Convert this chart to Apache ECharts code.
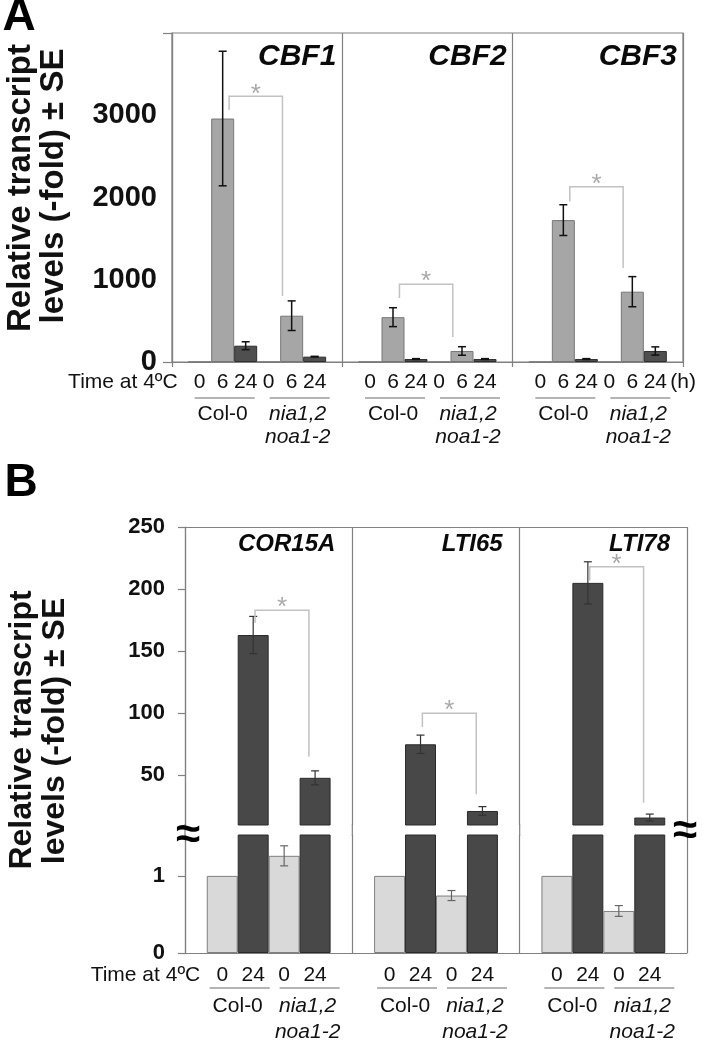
<!DOCTYPE html>
<html><head><meta charset="utf-8">
<script src="https://cdn.jsdelivr.net/npm/echarts@6/dist/echarts.min.js"></script>
<style>html,body{margin:0;padding:0;background:#fff}#c{width:703px;height:1041px}</style>
</head><body><div id="c"></div>
<script>
// ---------------- data ----------------
const genesA = ['CBF1', 'CBF2', 'CBF3'];
const genesB = ['COR15A', 'LTI65', 'LTI78'];
const timesA = ['0', '6', '24'];
const timesB = ['0', '24'];
const genotypeCol = 'Col-0';
const genotypeMut = ['nia1,2', 'noa1-2'];
const timeLabel = 'Time at 4ºC';
const unitLabel = '(h)';
const yTitle = ['Relative transcript', 'levels (-fold) ± SE'];

// Panel A: CBF transcripts (fold)
const colA0 = [1, 1, 1];
const colA6 = [2960, 545, 1725];
const colA24 = [198, 36, 36];
const mutA0 = [1, 1, 1];
const mutA6 = [563, 134, 855];
const mutA24 = [65, 36, 134];
const seColA6 = [818, 115, 187];
const seColA24 = [48, 5, 5];
const seMutA6 = [180, 52, 183];
const seMutA24 = [4, 5, 50];
const yTicksA = [0, 1000, 2000, 3000];

// Panel B: COR / LTI transcripts (fold)
const colB0 = [1, 1, 1];
const colB24 = [163, 75, 205];
const mutB0 = [1.26, 0.745, 0.545];
const mutB24 = [48, 21.3, 16];
const seColB24 = [15, 7.4, 17];
const seMutB0 = [0.13, 0.065, 0.07];
const seMutB24 = [5.6, 3.5, 2.8];
const yTicksBUpper = [50, 100, 150, 200, 250];
const yTicksBLower = [0, 1];

// significance brackets (value levels): bracket top, left leg end, right leg end
const sigTopA = [3230, 945, 2130];
const sigLeftA = [3066, 779, 1950];
const sigRightA = [803, 304, 1143];
const sigTopB = [183, 100, 218];
const sigLeftB = [172.6, 89, 207];
const sigRightB = [65, 34.7, 28];

// ---------------- style / layout ----------------
const FONT = 'Liberation Sans, Arial, Helvetica, sans-serif';
const AXIS_COLOR = '#808080';
const GAP_A = 0.19, GAP_B = 0.26;
const BREAK_GAP = 10;
const grids = [
  { left: 172, top: 33, width: 511, height: 329, show: true, borderColor: AXIS_COLOR, borderWidth: 1.2 },
  { left: 185, top: 527, width: 502, height: 298 },
  { left: 185, top: 835, width: 502, height: 118 }
];

function bars(data, xi, color, border, gap) {
  return {
    type: 'bar', xAxisIndex: xi, yAxisIndex: xi, data: data, barGap: '0%',
    barCategoryGap: (gap * 100) + '%', clip: true, silent: true,
    itemStyle: { color: color, borderColor: border, borderWidth: 1 }
  };
}
function txt(s, x, y, align, size, weight, style, color) {
  return { type: 'text', x: x, y: y, style: {
    text: s, align: align, verticalAlign: 'middle', fontSize: size, fontWeight: weight || 'normal',
    fontStyle: style || 'normal', fontFamily: FONT, fill: color || '#111' } };
}
function ln(x1, y1, x2, y2, color, w) {
  return { type: 'line', shape: { x1: x1, y1: y1, x2: x2, y2: y2 }, style: { stroke: color, lineWidth: w } };
}
function geom(api, n, gap, i, v) {
  const band = api.size([1, 0])[0];
  const bw = band * (1 - gap) / n;
  const cx = api.coord([i, v])[0];
  return { band: band, bw: bw, cx: cx, barX: function (k) { return cx + (k - (n - 1) / 2) * bw; } };
}
function errRender(n, gap, color, w, cap) {
  return function (params, api) {
    const i = api.value(0), v = api.value(1), se = api.value(2), k = api.value(3);
    const g = geom(api, n, gap, i, v);
    const x = g.barX(k);
    const yt = api.coord([i, v + se])[1], yb = api.coord([i, v - se])[1];
    return { type: 'group', children: [
      ln(x, yt, x, yb, color, w), ln(x - cap / 2, yt, x + cap / 2, yt, color, w), ln(x - cap / 2, yb, x + cap / 2, yb, color, w)
    ] };
  };
}
function sigRender(n, gap, kL, kR, offL, offR, starSize) {
  return function (params, api) {
    const i = api.value(0), top = api.value(1), lb = api.value(2), rb = api.value(3);
    const g = geom(api, n, gap, i, top);
    const xl = g.barX(kL + offL), xr = g.barX(kR + offR);
    const yt = api.coord([i, top])[1], yl = api.coord([i, lb])[1], yr = api.coord([i, rb])[1];
    return { type: 'group', children: [
      { type: 'polyline', shape: { points: [[xl, yl], [xl, yt], [xr, yt], [xr, yr]] },
        style: { stroke: '#c2c2c2', lineWidth: 1.5, fill: null } },
      txt('*', (xl + xr) / 2, yt - 2, 'center', starSize, 'normal', 'normal', '#a9a9a9')
    ] };
  };
}
function titleRender(names, padR, dy, size) {
  return function (params, api) {
    const i = api.value(0);
    const cs = params.coordSys;
    const band = api.size([1, 0])[0];
    const cx = api.coord([i, api.value(1)])[0];
    return txt(names[i], cx + band / 2 - padR, cs.y + dy, 'right', size, 'bold', 'italic', '#0a0a0a');
  };
}
function labelRender(cfg) {
  return function (params, api) {
    const i = api.value(0);
    const cs = params.coordSys;
    const nt = cfg.times.length, n = nt * 2;
    const g = geom(api, n, cfg.gap, i, api.value(1));
    const bottom = cs.y + cs.height;
    const ch = [];
    for (let q = 0; q < 2; q++) {
      cfg.times.forEach(function (t, j) { ch.push(txt(t, g.barX(q * nt + j), bottom + cfg.dyTime, 'center', cfg.size)); });
      const gc = g.barX(q * nt + (nt - 1) / 2) + (q === 0 ? cfg.offCol : cfg.offMut);
      ch.push(ln(gc - cfg.ulHalf + 2, bottom + cfg.dyLine, gc + cfg.ulHalf + 2, bottom + cfg.dyLine, '#6a6a6a', 1.2));
      if (q === 0) {
        ch.push(txt(genotypeCol, gc, bottom + cfg.dyName, 'center', cfg.size));
      } else {
        ch.push(txt(genotypeMut[0], gc, bottom + cfg.dyName, 'center', cfg.size, 'normal', 'italic'));
        ch.push(txt(genotypeMut[1], gc, bottom + cfg.dyName + cfg.lineGap, 'center', cfg.size, 'normal', 'italic'));
      }
    }
    if (i === 0) ch.push(txt(timeLabel, g.barX(0) - 22, bottom + cfg.dyTime, 'right', cfg.size));
    if (cfg.unit && i === cfg.count - 1) ch.push(txt(unitLabel, g.barX(n - 1) + 15, bottom + cfg.dyTime, 'left', cfg.size));
    if (cfg.breakLines) {
      const xl = g.cx - g.band / 2, xr = g.cx + g.band / 2;
      ch.push(ln(xl, cs.y - BREAK_GAP - 1, xl, cs.y + 1, AXIS_COLOR, 1.2));
      if (i === cfg.count - 1) ch.push(ln(xr, cs.y - BREAK_GAP - 1, xr, cs.y + 1, AXIS_COLOR, 1.2));
    }
    return { type: 'group', children: ch };
  };
}

// ---------------- series data builders ----------------
const errA = [];
genesA.forEach(function (g, i) {
  errA.push([i, colA6[i], seColA6[i], 1], [i, colA24[i], seColA24[i], 2],
            [i, mutA6[i], seMutA6[i], 4], [i, mutA24[i], seMutA24[i], 5]);
});
const errBU = [], errBL = [];
genesB.forEach(function (g, i) {
  errBU.push([i, colB24[i], seColB24[i], 1], [i, mutB24[i], seMutB24[i], 3]);
  errBL.push([i, mutB0[i], seMutB0[i], 2]);
});
const sigA = genesA.map(function (g, i) { return [i, sigTopA[i], sigLeftA[i], sigRightA[i]]; });
const sigB = genesB.map(function (g, i) { return [i, sigTopB[i], sigLeftB[i], sigRightB[i]]; });
const empty = genesB.map(function () { return '-'; });

function catAxis(gi, data, pos, ticks) {
  return {
    type: 'category', gridIndex: gi, data: data, position: pos, boundaryGap: true,
    axisLine: { show: true, lineStyle: { color: AXIS_COLOR, width: 1.2 } },
    axisTick: { show: ticks, length: 5, interval: 0, lineStyle: { color: AXIS_COLOR, width: 1.2 } },
    axisLabel: { show: false },
    splitLine: { show: true, interval: 0, lineStyle: { color: AXIS_COLOR, width: 1.2 } }
  };
}
function valAxis(gi, min, max, labels, ticks, size, margin, tickLen) {
  return {
    type: 'value', gridIndex: gi, min: min, max: max,
    axisLine: { show: true, lineStyle: { color: AXIS_COLOR, width: 1.2 } },
    axisTick: { show: true, length: tickLen, customValues: ticks, lineStyle: { color: AXIS_COLOR, width: 1.2 } },
    axisLabel: { customValues: labels, fontSize: size, fontWeight: 'bold', fontFamily: FONT, color: '#111', margin: margin,
      formatter: function (v) { return String(v); } },
    splitLine: { show: false }
  };
}
function titleText(s, x, y, size) {
  return { type: 'text', x: x, y: y, rotation: Math.PI / 2, style: { text: s, fontSize: size, fontWeight: 'bold', fontFamily: FONT, fill: '#111', align: 'center', verticalAlign: 'middle' } };
}

const option = {
  animation: false,
  backgroundColor: '#fff',
  grid: grids,
  xAxis: [catAxis(0, genesA, 'bottom', true), catAxis(1, genesB, 'top', false), catAxis(2, genesB, 'bottom', false)],
  yAxis: [
    valAxis(0, 0, 4000, yTicksA, [0, 4000], 29, 15, 9),
    valAxis(1, 10, 250, yTicksBUpper, yTicksBUpper, 22, 20, 7),
    valAxis(2, 0, 1.53, yTicksBLower, yTicksBLower, 22, 20, 7)
  ],
  series: [
    bars(colA0, 0, '#a6a6a6', '#777', GAP_A), bars(colA6, 0, '#a6a6a6', '#777', GAP_A), bars(colA24, 0, '#4f4f4f', '#2e2e2e', GAP_A),
    bars(mutA0, 0, '#a6a6a6', '#777', GAP_A), bars(mutA6, 0, '#a6a6a6', '#777', GAP_A), bars(mutA24, 0, '#4f4f4f', '#2e2e2e', GAP_A),
    bars(empty, 1, '#d9d9d9', '#7f7f7f', GAP_B), bars(colB24, 1, '#484848', '#2a2a2a', GAP_B),
    bars(empty, 1, '#d9d9d9', '#7f7f7f', GAP_B), bars(mutB24, 1, '#484848', '#2a2a2a', GAP_B),
    bars(colB0, 2, '#d9d9d9', '#7f7f7f', GAP_B), bars(colB24, 2, '#484848', '#2a2a2a', GAP_B),
    bars(mutB0, 2, '#d9d9d9', '#7f7f7f', GAP_B), bars(mutB24, 2, '#484848', '#2a2a2a', GAP_B),
    { type: 'custom', xAxisIndex: 0, yAxisIndex: 0, data: errA, z: 5, silent: true, renderItem: errRender(6, GAP_A, '#111', 1.5, 8) },
    { type: 'custom', xAxisIndex: 1, yAxisIndex: 1, data: errBU, z: 5, silent: true, renderItem: errRender(4, GAP_B, '#333', 1.2, 8) },
    { type: 'custom', xAxisIndex: 2, yAxisIndex: 2, data: errBL, z: 5, silent: true, renderItem: errRender(4, GAP_B, '#666', 1.2, 8) },
    { type: 'custom', xAxisIndex: 0, yAxisIndex: 0, data: sigA, z: 6, silent: true, renderItem: sigRender(6, GAP_A, 1, 4, 0.28, -0.4, 26) },
    { type: 'custom', xAxisIndex: 1, yAxisIndex: 1, data: sigB, z: 6, silent: true, renderItem: sigRender(4, GAP_B, 1, 3, 0.06, -0.2, 26) },
    { type: 'custom', xAxisIndex: 0, yAxisIndex: 0, z: 7, silent: true,
      data: genesA.map(function (g, i) { return [i, 0]; }), renderItem: titleRender(genesA, 6, 24, 30) },
    { type: 'custom', xAxisIndex: 1, yAxisIndex: 1, z: 7, silent: true,
      data: genesB.map(function (g, i) { return [i, 100]; }), renderItem: titleRender(genesB, 17, 17, 24) },
    { type: 'custom', xAxisIndex: 0, yAxisIndex: 0, z: 7, silent: true,
      data: genesA.map(function (g, i) { return [i, 0]; }),
      renderItem: labelRender({ times: timesA, gap: GAP_A, size: 21, dyTime: 20, dyLine: 36, dyName: 52, lineGap: 23,
        offCol: 0, offMut: 6, ulHalf: 30, unit: true, count: genesA.length }) },
    { type: 'custom', xAxisIndex: 2, yAxisIndex: 2, z: 7, silent: true,
      data: genesB.map(function (g, i) { return [i, 0]; }),
      renderItem: labelRender({ times: timesB, gap: GAP_B, size: 21, dyTime: 22, dyLine: 35, dyName: 53, lineGap: 26,
        offCol: 0, offMut: 8, ulHalf: 30, unit: false, count: genesB.length, breakLines: true }) }
  ],
  graphic: [
    { type: 'text', x: 19, y: 17, style: { text: 'A', fontSize: 46, fontWeight: 'bold', fontFamily: FONT, fill: '#000', align: 'center', verticalAlign: 'middle' } },
    { type: 'text', x: 21, y: 483, style: { text: 'B', fontSize: 46, fontWeight: 'bold', fontFamily: FONT, fill: '#000', align: 'center', verticalAlign: 'middle' } },
    titleText(yTitle[0], 21, 188, 33),
    titleText(yTitle[1], 54, 186, 33),
    titleText(yTitle[0], 22, 730, 32),
    titleText(yTitle[1], 55, 731, 32),
    { type: 'text', x: 188, y: 836, z: 100, style: { text: '≈', fontSize: 44, fontWeight: 'bold', fontFamily: FONT, fill: '#000', align: 'center', verticalAlign: 'middle' } },
    { type: 'text', x: 685, y: 832, z: 100, style: { text: '≈', fontSize: 44, fontWeight: 'bold', fontFamily: FONT, fill: '#000', align: 'center', verticalAlign: 'middle' } }
  ]
};

const chart = echarts.init(document.getElementById('c'), null, { renderer: 'canvas' });
chart.setOption(option);
</script>
</body></html>
